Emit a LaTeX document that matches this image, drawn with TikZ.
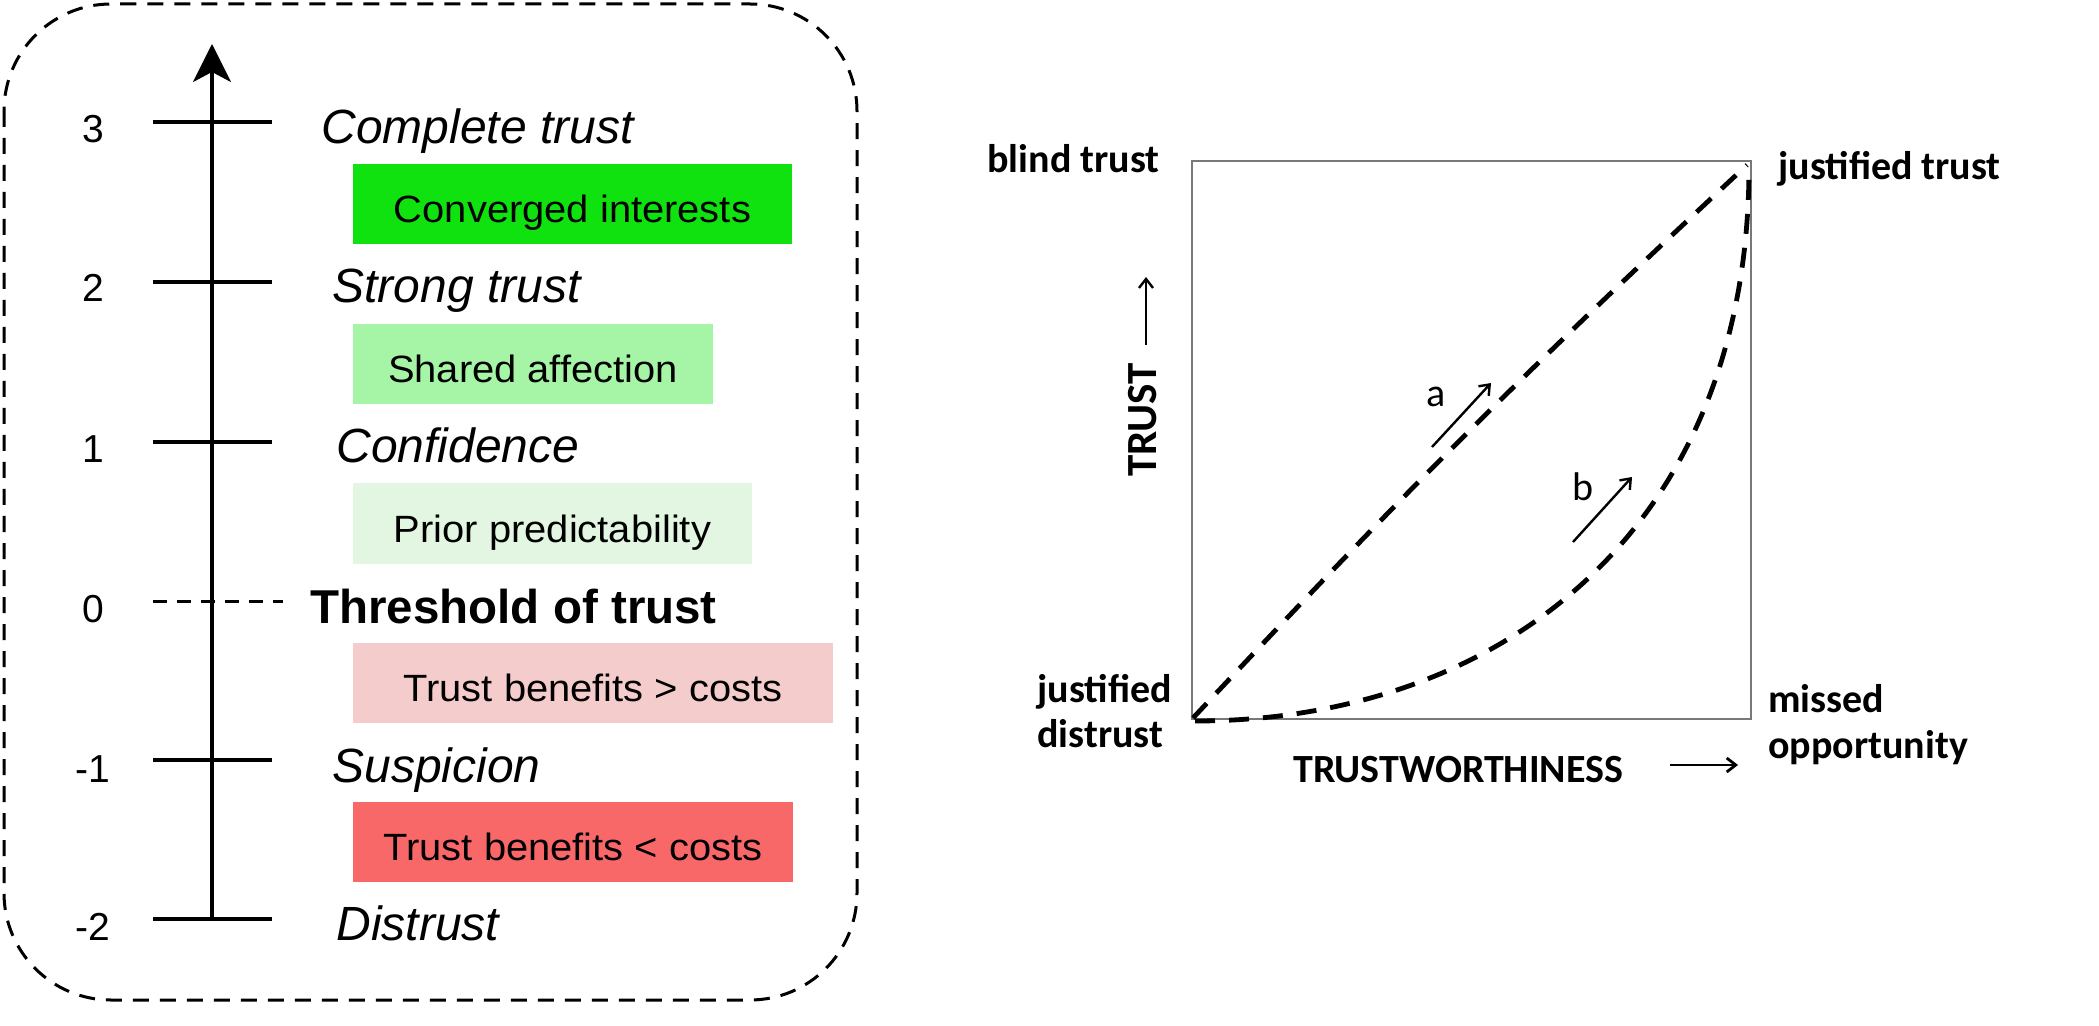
\documentclass[tikz,border=0pt]{standalone}
\usepackage{fontspec}
\setmainfont{Liberation Sans}
\newfontfamily\boxfont[FakeStretch=1.05]{Liberation Sans}
\newfontfamily\carlito{Carlito}
\usetikzlibrary{arrows.meta}
\definecolor{cConv}{RGB}{16,226,16}
\definecolor{cShared}{RGB}{166,245,166}
\definecolor{cPrior}{RGB}{226,246,226}
\definecolor{cMore}{RGB}{245,204,204}
\definecolor{cLess}{RGB}{248,104,104}
\definecolor{sqgray}{RGB}{120,120,120}
\begin{document}
\begin{tikzpicture}[x=0.5pt,y=-0.5pt,
  border/.style={line width=1.5pt, dash pattern=on 8pt off 5.5pt, rounded corners=53.5pt},
  axisline/.style={line width=1.7pt, -{Stealth[length=19pt,width=19pt,inset=5pt]}},
  tickline/.style={line width=1.6pt},
  thrline/.style={line width=1.5pt, dash pattern=on 7pt off 5pt},
  numlbl/.style={font=\fontsize{19.5pt}{22pt}\selectfont, anchor=base, inner sep=0pt},
  lvl/.style={font=\fontsize{24pt}{26pt}\selectfont\itshape, anchor=base west, inner sep=0pt},
  thr/.style={font=\fontsize{23.75pt}{26pt}\selectfont\bfseries, anchor=base west, inner sep=0pt},
  cbox/.style={inner sep=0pt, text height=19pt, text depth=0pt, minimum height=40pt,
    font=\boxfont\fontsize{19pt}{21pt}\selectfont},
  sq/.style={draw=sqgray, line width=1.1pt},
  dashline/.style={line width=2.4pt, dash pattern=on 10pt off 7pt},
  smallarrow/.style={line width=1.2pt, -{Straight Barb[length=4.5pt,width=7pt]}},
  rlbl/.style={font=\carlito\bfseries\fontsize{20pt}{22pt}\selectfont, anchor=base west, inner sep=0pt},
  letter/.style={font=\carlito\fontsize{20pt}{22pt}\selectfont, inner sep=0pt}
]
\useasboundingbox (0,0) rectangle (2099,1026);

% ---------------- left panel ----------------
\draw[border] (4,4) rectangle (857,1000);

\coordinate (axbot) at (212,919);
\coordinate (axtop) at (212,44);
\draw[axisline] (axbot) -- (axtop);

\foreach \yy in {122,282,442,760,919}{
  \draw[tickline] (153,\yy) -- (272,\yy);
}
\coordinate (thrL) at (153,601);
\coordinate (thrR) at (283,601);
\draw[thrline] (thrL) -- (thrR);

\node[numlbl] (n3) at (93,143) {3};
\node[numlbl] (n2) at (93,302) {2};
\node[numlbl] (n1) at (93,463) {1};
\node[numlbl] (n0) at (93,622) {0};
\node[numlbl] (nm1) at (93,782) {-1};
\node[numlbl] (nm2) at (93,940) {-2};

\node[lvl] (l3) at (321,144) {Complete trust};
\node[lvl] (l2) at (332,303) {Strong trust};
\node[lvl] (l1) at (336,463) {Confidence};
\node[thr] (l0) at (310,623) {Threshold of trust};
\node[lvl] (lm1) at (332,782) {Suspicion};
\node[lvl] (lm2) at (336,940) {Distrust};

\node[cbox, fill=cConv, minimum width=219.5pt] (b1) at (572.5,204) {Converged interests};
\node[cbox, fill=cShared, minimum width=180pt] (b2) at (533,364) {Shared affection};
\node[cbox, fill=cPrior, minimum width=199.5pt] (b3) at (552.5,523.5) {Prior predictability};
\node[cbox, fill=cMore, minimum width=240pt] (b4) at (593,682.5) {Trust benefits > costs};
\node[cbox, fill=cLess, minimum width=220pt] (b5) at (573,841.5) {Trust benefits < costs};

% ---------------- right panel ----------------
\coordinate (BL) at (1192,719);
\coordinate (TR) at (1751,161);
\draw[sq] (BL) rectangle (TR);

\coordinate (aStart) at (1193,718);
\coordinate (aEnd) at (1747,165);
\draw[dashline] (aStart) to[bend left=2] (aEnd);

\coordinate (bStart) at (1195,721);
\coordinate (bEnd) at (1749,166);
\draw[dashline] (bStart) .. controls (1500,721) and (1749,530) .. (bEnd);

\coordinate (a1) at (1432,447);
\coordinate (a2) at (1491,383);
\draw[smallarrow] (a1) -- (a2);
\node[letter] (la) at (1436,397) {a};

\coordinate (b1s) at (1573,542);
\coordinate (b2s) at (1632,477);
\draw[smallarrow] (b1s) -- (b2s);
\node[letter] (lb) at (1583,487) {b};

\node[rlbl] (blind) at (987,173) {blind trust};
\node[rlbl] (jtrust) at (1778,180) {justified trust};
\node[rlbl] (jd1) at (1037,702) {justified};
\node[rlbl] (jd2) at (1037,747) {distrust};
\node[rlbl] (mo1) at (1768,712) {missed};
\node[rlbl] (mo2) at (1768,758) {opportunity};
\node[rlbl] (tw) at (1293,782) {TRUSTWORTHINESS};
\node[rlbl, rotate=90, font=\carlito\bfseries\fontsize{21.5pt}{22pt}\selectfont] (tr) at (1156,477) {TRUST};

\coordinate (xa1) at (1670,765);
\coordinate (xa2) at (1738,765);
\draw[smallarrow, line width=1.4pt] (xa1) -- (xa2);
\coordinate (ya1) at (1146,345);
\coordinate (ya2) at (1146,277);
\draw[smallarrow] (ya1) -- (ya2);
\end{tikzpicture}
\end{document}
